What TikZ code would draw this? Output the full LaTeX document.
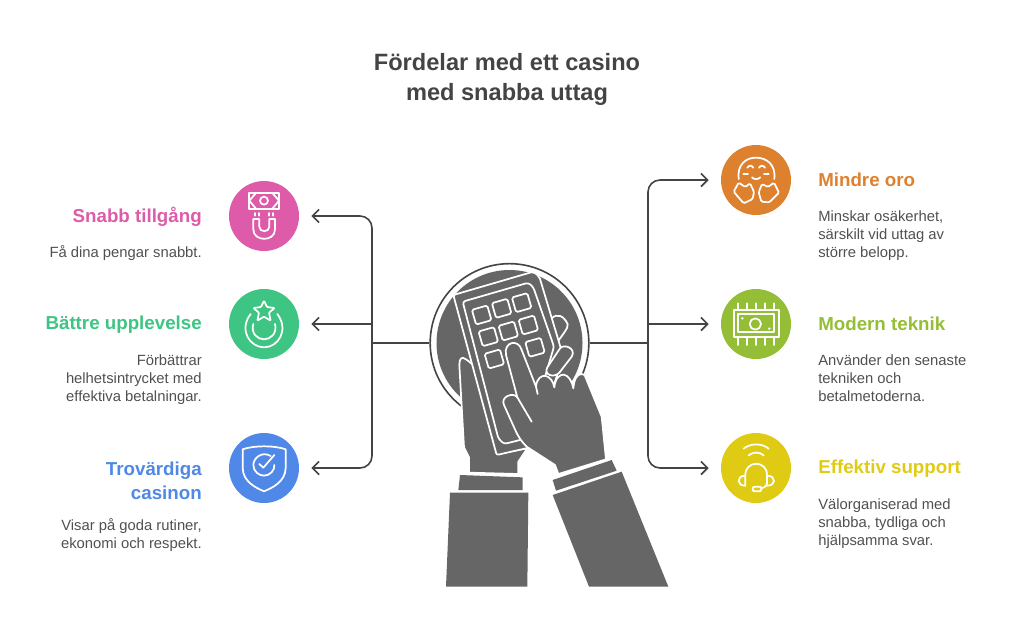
\documentclass[tikz,border=0pt]{standalone}
\usepackage{fontspec}
\setmainfont{Liberation Sans}
\usetikzlibrary{arrows.meta}
\definecolor{inkGray}{HTML}{666666}
\definecolor{lineGray}{HTML}{444444}
\definecolor{textGray}{HTML}{505050}
\definecolor{pinkTone}{HTML}{DD5BA9}
\definecolor{greenTone}{HTML}{3EC483}
\definecolor{blueTone}{HTML}{4F88E6}
\definecolor{orangeTone}{HTML}{DE812F}
\definecolor{limeTone}{HTML}{93BE36}
\definecolor{yellowTone}{HTML}{E0CB14}
\tikzset{
  zoomed/.style 2 args={shift={(#1,#2)},x=.25pt,y=-.25pt},
  iconDisc/.style={circle, fill=#1, minimum size=52.5pt, inner sep=0pt},
  iconLine/.style={draw=white, line width=1.3pt, line cap=round, line join=round},
  handFill/.style={fill=inkGray, draw=white, line width=1.3pt, line join=round},
  heading/.style={font=\fontsize{14.05}{18}\selectfont\bfseries, text=#1},
  bodyRight/.style={font=\fontsize{11.1}{13.5}\selectfont, text=textGray, align=right, anchor=north east, inner sep=0pt},
  bodyLeft/.style={font=\fontsize{11.1}{13.5}\selectfont, text=textGray, align=left, anchor=north west, inner sep=0pt},
  link/.style={draw=lineGray, line width=1.2pt, rounded corners=9pt},
  linkTip/.style={link, -{Straight Barb[length=5pt,width=10pt]}, shorten >=9pt}
}
\begin{document}
\begin{tikzpicture}[x=.75pt,y=-.75pt]
\useasboundingbox (0,0) rectangle (1020,637);

% title
\node[font=\fontsize{17.7}{23}\selectfont\bfseries, text=lineGray, align=center] (title) at (507,79.5) {Fördelar med ett casino\\med snabba uttag};

% hub
\node[circle, draw=lineGray, line width=1.2pt, minimum size=119pt, inner sep=0pt] (hub) at (509.5,343) {};
\fill[inkGray] (hub.center) circle (73);

% icon discs
\node[iconDisc=pinkTone] (tillgang) at (264,216) {};
\node[iconDisc=greenTone] (upplevelse) at (264,324) {};
\node[iconDisc=blueTone] (casinon) at (264,468) {};
\node[iconDisc=orangeTone] (oro) at (756,180) {};
\node[iconDisc=limeTone] (teknik) at (756,324) {};
\node[iconDisc=yellowTone] (support) at (756,468) {};

% connectors
\coordinate (trunkLeft) at (372,343);
\coordinate (trunkRight) at (648,343);
\draw[link] (hub.west) -- (trunkLeft);
\draw[link] (hub.east) -- (trunkRight);
\draw[linkTip] (trunkLeft) |- (tillgang.east);
\draw[linkTip, rounded corners=0pt] (trunkLeft) |- (upplevelse.east);
\draw[linkTip] (trunkLeft) |- (casinon.east);
\draw[linkTip] (trunkRight) |- (oro.west);
\draw[linkTip, rounded corners=0pt] (trunkRight) |- (teknik.west);
\draw[linkTip] (trunkRight) |- (support.west);

% left side texts
\node[heading=pinkTone, anchor=east, inner sep=0pt] (tillgangHead) at (202,216.5) {Snabb tillgång};
\node[bodyRight] (tillgangBody) at (202,245) {Få dina pengar snabbt.};
\node[heading=greenTone, anchor=east, inner sep=0pt] (upplevelseHead) at (202,324.5) {Bättre upplevelse};
\node[bodyRight] (upplevelseBody) at (202,354) {Förbättrar\\helhetsintrycket med\\effektiva betalningar.};
\node[heading=blueTone, anchor=north east, inner sep=0pt, align=right] (casinonHead) at (202,462) {Trovärdiga\\casinon};
\node[bodyRight] (casinonBody) at (202,518) {Visar på goda rutiner,\\ekonomi och respekt.};

% right side texts
\node[heading=orangeTone, anchor=west, inner sep=0pt] (oroHead) at (818,180) {Mindre oro};
\node[bodyLeft] (oroBody) at (818,210) {Minskar osäkerhet,\\särskilt vid uttag av\\större belopp.};
\node[heading=limeTone, anchor=west, inner sep=0pt] (teknikHead) at (818,324) {Modern teknik};
\node[bodyLeft] (teknikBody) at (818,354) {Använder den senaste\\tekniken och\\betalmetoderna.};
\node[heading=yellowTone, anchor=west, inner sep=0pt] (supportHead) at (818,468.5) {Effektiv support};
\node[bodyLeft] (supportBody) at (818,498) {Välorganiserad med\\snabba, tydliga och\\hjälpsamma svar.};

% hands and keypad
\begin{scope}[zoomed={400}{250}]
  % finger behind the keypad
  \path[handFill] (455,205) .. controls (470,190) and (490,195) .. (503,222) .. controls (505,235) and (490,250) .. (470,280) -- cycle;
  % left hand
  \path[handFill] (178,345) .. controls (178,325) and (185,318) .. (198,328) .. controls (225,345) and (238,370) .. (240,395) -- (300,610) -- (382,595) -- (355,635) -- (355,672) -- (207,668) -- (207,622) -- (192,592) -- cycle;
  % keypad
  \path[handFill, rounded corners=1.5pt] (160,135) -- (400,65) -- (418,80) -- (490,320) -- (400,590) -- (290,615) -- cycle;
  \draw[iconLine, rounded corners=2pt] (188,155) -- (385,98) -- (400,112) -- (462,290) -- (380,565) -- (312,582) -- (295,565) -- cycle;
  \foreach \kx/\ky in {245/195,305/175,365/158,265/260,325/243,385/225,283/327,405/292}
    \draw[iconLine, rounded corners=1.2pt, rotate around={16:(\kx,\ky)}] (\kx-24,\ky-23) rectangle (\kx+24,\ky+23);
  % nail
  \path[handFill] (442,352) -- (480,295) .. controls (492,280) and (530,295) .. (515,320) -- (478,368) .. controls (462,385) and (430,375) .. (442,352) -- cycle;
  % right hand
  \path[handFill] (555,378) -- (605,500) -- (618,628) -- (475,672) -- (465,645) -- (380,590) .. controls (365,575) and (355,560) .. (348,545) -- (312,465) .. controls (300,440) and (340,425) .. (352,442) -- (318,315) .. controls (310,275) and (355,265) .. (365,300) -- (408,410) .. controls (410,385) and (425,375) .. (437,378) .. controls (450,380) and (460,395) .. (463,412) .. controls (465,385) and (480,372) .. (492,374) .. controls (505,376) and (517,395) .. (520,415) .. controls (522,390) and (530,372) .. (545,372) .. controls (550,372) and (553,375) .. (555,378) -- cycle;
  \draw[iconLine] (408,410) -- (413,432);
  \draw[iconLine] (352,442) -- (395,515);
  % cuffs and sleeves
  \fill[inkGray] (458,690) -- (635,630) -- (650,662) -- (468,722) -- cycle;
  \fill[inkGray] (458,735) -- (665,665) -- (805,1010) -- (567,1010) -- cycle;
  \fill[inkGray] (180,675) -- (368,682) -- (368,720) -- (175,720) -- cycle;
  \fill[inkGray] (150,728) -- (385,728) -- (382,1010) -- (138,1010) -- cycle;
\end{scope}

% pink, green and blue icons
\begin{scope}[zoomed={220}{170}]
  \draw[iconLine] (87,68) rectangle (178,117);
  \draw[iconLine] (132,92) circle (12);
  \draw[iconLine] (107,70) -- (88,92) -- (107,115);
  \draw[iconLine] (158,70) -- (177,92) -- (158,115);
  \draw[iconLine] (100,147) -- (118,147) -- (118,170) .. controls (118,188) and (148,188) .. (148,170) -- (148,147) -- (165,147) -- (165,178) .. controls (165,216) and (100,216) .. (100,178) -- cycle;
  \draw[iconLine] (105,129) -- (105,137) (117,129) -- (117,137) (148,129) -- (148,137) (160,129) -- (160,137);
  \draw[iconLine, rounded corners=.6pt] (132,392) -- (141,411) -- (164,414) -- (147,428) -- (152,452) -- (132,440) -- (112,452) -- (117,428) -- (100,414) -- (123,411) -- cycle;
  \draw[iconLine] (92,432) .. controls (55,480) and (90,532) .. (132,532) .. controls (175,532) and (208,480) .. (172,432);
  \draw[iconLine] (100,462) .. controls (92,490) and (112,508) .. (132,508) .. controls (152,508) and (172,490) .. (165,462);
  \draw[iconLine] (68,838) .. controls (100,826) and (165,826) .. (197,838) -- (197,895) .. controls (195,935) and (160,952) .. (132,964) .. controls (105,952) and (70,935) .. (68,895) -- cycle;
  \draw[iconLine] (152,858) .. controls (125,842) and (100,865) .. (100,885) .. controls (100,905) and (118,917) .. (132,917) .. controls (150,917) and (165,900) .. (163,885);
  \draw[iconLine] (118,882) -- (130,893) -- (163,855);
\end{scope}

% orange, lime and yellow icons
\begin{scope}[zoomed={712}{135}]
  \draw[iconLine] (80,132) .. controls (75,90) and (100,68) .. (132,68) .. controls (165,68) and (192,90) .. (187,132);
  \draw[iconLine] (106,98) .. controls (112,90) and (118,90) .. (124,98);
  \draw[iconLine] (141,98) .. controls (147,90) and (153,90) .. (159,98);
  \draw[iconLine] (94,118) -- (108,118) (156,118) -- (170,118);
  \draw[iconLine] (120,127) .. controls (126,134) and (138,134) .. (145,127);
  \draw[iconLine, rounded corners=1pt] (65,170) -- (80,143) -- (100,156) -- (114,145) -- (126,170) -- (122,192) -- (95,205) -- cycle;
  \draw[iconLine, rounded corners=1pt] (140,172) -- (150,147) -- (168,156) -- (186,143) -- (201,173) -- (172,202) -- (148,200) -- cycle;
  \draw[iconLine] (65,525) rectangle (200,605);
  \draw[iconLine] (78,538) rectangle (187,592);
  \draw[iconLine] (130,567) circle (17);
  \fill[white] (91,550) circle (4) (172,581) circle (4);
  \foreach \px in {78,105,132,158,185}
    \draw[iconLine] (\px,505) -- (\px,525) (\px,605) -- (\px,630);
  \draw[iconLine] (95,941) .. controls (115,924) and (150,924) .. (170,941);
  \draw[iconLine] (110,961) .. controls (122,950) and (143,950) .. (155,961);
  \draw[iconLine] (100,1052) -- (100,1020) .. controls (100,975) and (165,975) .. (165,1020) -- (165,1045) .. controls (165,1052) and (160,1056) .. (148,1060);
  \draw[iconLine] (100,1022) .. controls (85,1022) and (80,1030) .. (80,1038) .. controls (80,1046) and (88,1052) .. (100,1052);
  \draw[iconLine] (165,1022) .. controls (180,1022) and (186,1030) .. (186,1038) .. controls (186,1046) and (178,1052) .. (165,1052);
  \draw[iconLine, rounded corners=1.5pt] (122,1055) rectangle (148,1069);
\end{scope}
\end{tikzpicture}
\end{document}
